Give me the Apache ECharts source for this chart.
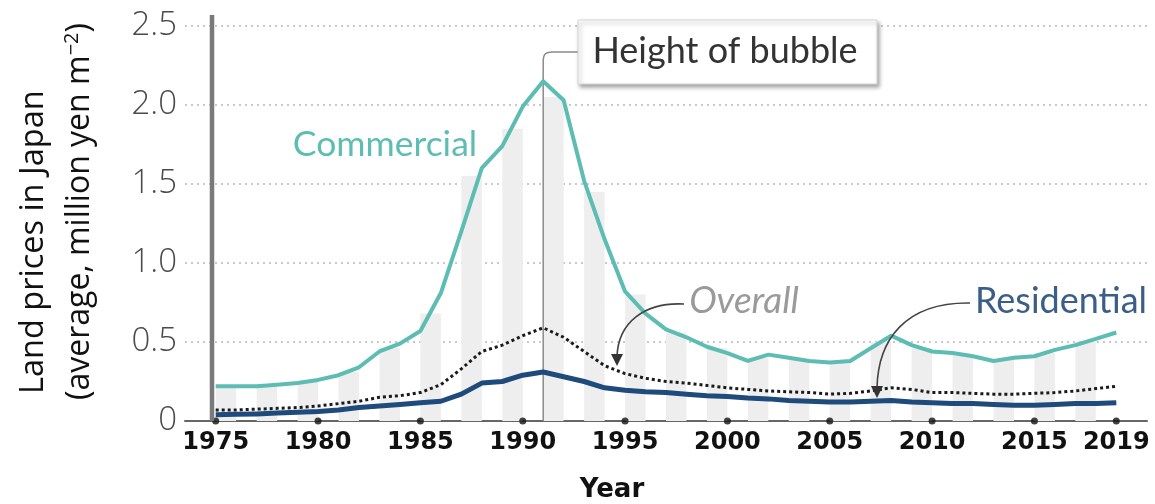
<!DOCTYPE html>
<html>
<head>
<meta charset="utf-8">
<script src="https://cdn.jsdelivr.net/npm/echarts@6/dist/echarts.min.js"></script>
<style>
  html, body { margin: 0; padding: 0; background: #fff; }
  #chart { width: 1155px; height: 504px; }
</style>
</head>
<body>
<div id="chart"></div>
<script>
// Average land prices in Japan, million yen per square metre
const years = [1975,1976,1977,1978,1979,1980,1981,1982,1983,1984,1985,1986,1987,1988,1989,1990,
  1991,1992,1993,1994,1995,1996,1997,1998,1999,2000,2001,2002,2003,2004,2005,2006,2007,2008,2009,
  2010,2011,2012,2013,2014,2015,2016,2017,2018,2019];

const commercial = [0.22,0.22,0.22,0.23,0.24,0.26,0.29,0.34,0.44,0.49,0.57,0.81,1.20,1.60,1.74,1.99,
  2.15,2.03,1.52,1.15,0.82,0.68,0.58,0.53,0.47,0.43,0.38,0.42,0.40,0.38,0.37,0.38,0.46,0.54,0.48,
  0.44,0.43,0.41,0.38,0.40,0.41,0.45,0.48,0.52,0.56];

const overall = [0.07,0.07,0.075,0.08,0.085,0.095,0.11,0.125,0.15,0.16,0.18,0.23,0.33,0.44,0.48,0.54,
  0.59,0.53,0.44,0.35,0.30,0.27,0.25,0.24,0.225,0.21,0.20,0.19,0.185,0.18,0.17,0.175,0.19,0.21,0.20,
  0.18,0.18,0.175,0.17,0.17,0.175,0.18,0.19,0.205,0.22];

const residential = [0.04,0.042,0.045,0.05,0.055,0.06,0.07,0.085,0.095,0.105,0.115,0.125,0.17,0.24,0.25,0.29,
  0.31,0.28,0.25,0.21,0.195,0.185,0.18,0.17,0.16,0.155,0.145,0.14,0.13,0.125,0.12,0.12,0.125,0.13,0.12,
  0.115,0.11,0.11,0.105,0.10,0.10,0.105,0.11,0.11,0.115];

// Light background columns, one year wide, every other year
const columnCenters = [1975.5,1977.5,1979.5,1981.5,1983.5,1985.5,1987.5,1989.5,1991.5,1993.5,1995.5,
  1997.5,1999.5,2001.5,2003.5,2005.5,2007.5,2009.5,2011.5,2013.5,2015.5,2017.5];
const columnHeights = [0.22,0.22,0.25,0.31,0.46,0.68,1.55,1.85,2.05,1.45,0.80,0.56,0.46,0.40,0.39,0.37,
  0.50,0.46,0.42,0.39,0.43,0.50];

const yearTicks = [1975,1980,1985,1990,1995,2000,2005,2010,2015,2019];
const peakYear = 1991;

const pairs = (xs, ys) => xs.map((x, i) => [x, ys[i]]);

const TEAL = '#5dbdb3';
const NAVY = '#1e4a7c';
const TEXT_FONT = 'Lato, "Open Sans", sans-serif';
const TITLE_FONT = '"Open Sans", "Noto Sans", sans-serif';

const chart = echarts.init(document.getElementById('chart'), null, { renderer: 'canvas' });

const option = {
  animation: false,
  backgroundColor: '#fff',
  grid: { left: 185, right: 8, top: 26, bottom: 83, containLabel: false, outerBoundsMode: 'none' },
  xAxis: {
    type: 'value',
    min: 1973.5,
    max: 2020.5,
    name: 'Year',
    nameLocation: 'middle',
    nameGap: 56,
    nameTextStyle: {
      fontFamily: '"DejaVu Sans", sans-serif', fontWeight: 'bold', fontSize: 26, color: '#111',
      padding: [0, 108, 0, 0]
    },
    axisLine: { show: true, lineStyle: { color: '#666', width: 2 } },
    axisTick: { show: false, customValues: yearTicks },
    axisLabel: {
      customValues: yearTicks,
      margin: 10,
      fontFamily: '"DejaVu Sans", sans-serif', fontWeight: 'bold', fontSize: 24, color: '#111',
      formatter: v => String(v)
    },
    splitLine: { show: false }
  },
  yAxis: {
    type: 'value',
    min: 0,
    max: 2.5,
    interval: 0.5,
    axisLine: { show: false },
    axisTick: { show: false },
    axisLabel: {
      margin: 8,
      fontFamily: TITLE_FONT, fontWeight: 300, fontSize: 33, color: '#4a4a4a',
      formatter: v => (v === 0 ? '0' : v.toFixed(1))
    },
    splitLine: { show: true, lineStyle: { color: '#c9c9c9', width: 2, type: [2, 4] } }
  },
  series: [
    {
      name: 'columns',
      type: 'custom',
      z: 1,
      silent: true,
      data: pairs(columnCenters, columnHeights),
      renderItem: (params, api) => {
        const c = api.value(0), h = api.value(1);
        const tl = api.coord([c - 0.5, h]);
        const br = api.coord([c + 0.5, 0]);
        return {
          type: 'rect',
          shape: { x: tl[0], y: tl[1], width: br[0] - tl[0], height: br[1] - tl[1] },
          style: { fill: '#eeeeee' }
        };
      }
    },
    {
      name: 'Commercial',
      type: 'line',
      z: 4,
      data: pairs(years, commercial),
      symbol: 'none',
      lineStyle: { color: TEAL, width: 4, join: 'round' }
    },
    {
      name: 'Overall',
      type: 'line',
      z: 4,
      data: pairs(years, overall),
      symbol: 'none',
      lineStyle: { color: '#1a1a1a', width: 3, type: [3, 3] }
    },
    {
      name: 'Residential',
      type: 'line',
      z: 4,
      data: pairs(years, residential),
      symbol: 'none',
      lineStyle: { color: NAVY, width: 5, join: 'round' }
    },
    {
      name: 'ticks',
      type: 'scatter',
      z: 5,
      clip: false,
      silent: true,
      data: yearTicks.map(y => [y, 0]),
      symbol: 'circle',
      symbolSize: 7,
      itemStyle: { color: '#111' }
    }
  ]
};

chart.setOption(option);

// Annotations placed from the chart's own scales
const base = chart.convertToPixel({ gridIndex: 0 }, [peakYear, 0]);
const px = base[0];
const bottomY = base[1];
const topY = chart.convertToPixel({ gridIndex: 0 }, [1973.5, 2.5])[1];

chart.setOption({
  graphic: [
    // heavy left rule
    {
      type: 'line', z: 6,
      shape: { x1: 212, y1: topY - 11, x2: 212, y2: bottomY },
      style: { stroke: '#7a7a7a', lineWidth: 4.5 }
    },
    // peak marker leading to the callout box
    {
      type: 'line', z: 3,
      shape: { x1: px, y1: bottomY, x2: px, y2: 62 },
      style: { stroke: '#8a8a8a', lineWidth: 1.5 }
    },
    {
      type: 'bezierCurve', z: 3,
      shape: { x1: px, y1: 62, cpx1: px, cpy1: 54, cpx2: px + 2, cpy2: 52, x2: px + 10, y2: 52 },
      style: { stroke: '#8a8a8a', lineWidth: 1.5, fill: null }
    },
    {
      type: 'line', z: 3,
      shape: { x1: px + 10, y1: 52, x2: 579, y2: 52 },
      style: { stroke: '#8a8a8a', lineWidth: 1.5 }
    },
    {
      type: 'rect', z: 10,
      shape: { x: 578, y: 20, width: 299, height: 64 },
      style: {
        fill: '#fff', stroke: '#d6d6d6', lineWidth: 1,
        shadowBlur: 4, shadowOffsetX: 2, shadowOffsetY: 3, shadowColor: 'rgba(0,0,0,0.35)'
      }
    },
    {
      type: 'text', z: 11,
      x: 725, y: 51,
      style: { text: 'Height of bubble', font: `36px ${TEXT_FONT}`, fill: '#333', align: 'center', verticalAlign: 'middle' }
    },
    {
      type: 'text', z: 11,
      x: 385, y: 145,
      style: { text: 'Commercial', font: `35.5px ${TEXT_FONT}`, fill: TEAL, align: 'center', verticalAlign: 'middle' }
    },
    {
      type: 'text', z: 11,
      x: 744, y: 301,
      style: { text: 'Overall', font: `italic 37px ${TEXT_FONT}`, fill: '#9a9a9a', align: 'center', verticalAlign: 'middle' }
    },
    {
      type: 'text', z: 11,
      x: 1061, y: 301,
      style: { text: 'Residential', font: `36px ${TEXT_FONT}`, fill: '#3b5e88', align: 'center', verticalAlign: 'middle' }
    },
    // pointer to the overall line
    {
      type: 'bezierCurve', z: 11,
      shape: { x1: 684, y1: 304, cpx1: 645, cpy1: 302, cpx2: 618, cpy2: 322, x2: 617, y2: 357 },
      style: { stroke: '#444', lineWidth: 1.6, fill: null }
    },
    {
      type: 'polygon', z: 11,
      shape: { points: [[611, 354], [623, 354], [617, 366]] },
      style: { fill: '#333' }
    },
    // pointer to the residential line
    {
      type: 'bezierCurve', z: 11,
      shape: { x1: 970, y1: 303, cpx1: 905, cpy1: 302, cpx2: 878, cpy2: 340, x2: 877, y2: 388 },
      style: { stroke: '#444', lineWidth: 1.6, fill: null }
    },
    {
      type: 'polygon', z: 11,
      shape: { points: [[871, 386], [883, 386], [877, 398]] },
      style: { fill: '#333' }
    },
    // vertical axis title, two lines
    {
      type: 'text', z: 11,
      x: 34, y: 394, rotation: Math.PI / 2,
      style: { text: 'Land prices in Japan', font: `32.5px ${TITLE_FONT}`, fill: '#111', align: 'left', verticalAlign: 'middle' }
    },
    {
      type: 'text', z: 11,
      x: 80, y: 400, rotation: Math.PI / 2,
      style: {
        text: '(average, million yen m{sup|−2})',
        font: `32px ${TITLE_FONT}`, fill: '#111', align: 'left', verticalAlign: 'middle',
        rich: {
          sup: { fontSize: 20, fontFamily: TITLE_FONT, fill: '#111', verticalAlign: 'top', padding: [0, 0, 16, 0] }
        }
      }
    }
  ]
});
</script>
</body>
</html>
